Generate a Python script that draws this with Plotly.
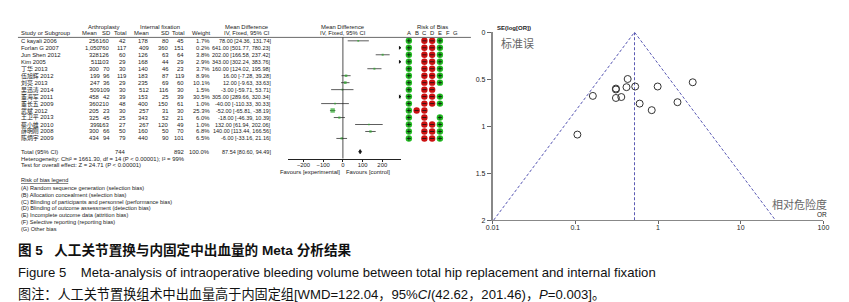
import math
import plotly.graph_objects as go

W, H = 849, 302
F = "Liberation Sans, Arial, Noto Sans CJK SC"
FC = "Liberation Sans, Noto Sans CJK SC"

# ---------------- data ----------------
studies = ["C kayali 2006", "Forlan G 2007", "Jun Shen 2012", "Kim 2005", "丁华 2013",
           "伍旭辉 2012", "刘亮 2013", "吴迅涛 2014", "董海军 2011", "董长五 2009",
           "武斌 2012", "王卫平 2013", "蔡小雄 2010", "薛明刚 2008", "陈炳宇 2009"]
arth_mean = ["256", "1,050", "328", "511", "300", "199", "247", "509", "458", "360", "205", "325", "399", "300", "434"]
arth_sd = ["160", "760", "126", "103", "70", "96", "36", "109", "42", "210", "23", "45", "163", "66", "94"]
arth_n = ["42", "117", "60", "29", "30", "119", "29", "30", "39", "48", "30", "25", "27", "50", "79"]
fix_mean = ["178", "409", "126", "168", "140", "183", "235", "512", "153", "400", "257", "343", "267", "160", "440"]
fix_sd = ["80", "360", "63", "44", "46", "87", "69", "116", "25", "150", "31", "52", "120", "50", "90"]
fix_n = ["45", "151", "64", "29", "23", "119", "60", "30", "39", "61", "30", "21", "49", "70", "101"]
weight = [1.7, 0.2, 3.8, 2.9, 3.7, 8.9, 10.1, 1.5, 30.5, 1.0, 25.3, 6.0, 1.0, 6.8, 6.5]
md = [78.00, 641.00, 202.00, 343.00, 160.00, 16.00, 12.00, -3.00, 305.00, -40.00, -52.00, -18.00, 132.00, 140.00, -6.00]
ci_lo = [24.36, 501.77, 166.58, 302.24, 124.02, -7.28, -9.63, -59.71, 289.66, -110.33, -65.81, -46.39, 61.94, 113.44, -33.16]
ci_hi = [131.74, 780.23, 237.42, 383.76, 195.98, 39.28, 33.63, 53.71, 320.34, 30.33, -38.19, 10.39, 202.06, 166.56, 21.16]
total_md, total_lo, total_hi = 87.54, 80.60, 94.49
total_arth_n, total_fix_n = "744", "892"
forest_ticks = [-200, -100, 0, 100, 200]

rob_cols = ["A", "B", "C", "D", "E", "F", "G"]
rob = {
    "A": ["+"] * 15,
    "B": [None] * 10 + ["-"] + [None] * 4,
    "C": ["-"] * 15,
    "D": ["-"] * 10 + [None, None] + ["-"] * 3,
    "E": ["+"] * 7 + [None] + ["+", "+"] + [None] + ["+"] * 4,
    "F": [None] * 15,
    "G": [None] * 15,
}
rob_legend = ["(A) Random sequence generation (selection bias)",
              "(B) Allocation concealment (selection bias)",
              "(C) Blinding of participants and personnel (performance bias)",
              "(D) Blinding of outcome assessment (detection bias)",
              "(E) Incomplete outcome data (attrition bias)",
              "(F) Selective reporting (reporting bias)",
              "(G) Other bias"]

funnel_or = [0.163, 0.43, 0.31, 0.31, 0.416, 0.53, 0.99, 0.31, 0.36, 0.60, 0.84, 0.106, 1.72, 2.63]
funnel_se = [0.678, 0.498, 0.60, 0.61, 0.585, 0.578, 0.578, 0.70, 0.69, 0.76, 0.83, 1.09, 0.745, 0.533]
pooled_or = 0.52
funnel_ticks = [0.01, 0.1, 1, 10, 100]
funnel_ticktext = ["0.01", "0.1", "1", "10", "100"]
se_ticks = [0, 0.5, 1, 1.5, 2]
se_ticktext = ["0", "0.5", "1", "1.5", "2"]

# ---------------- layout geometry (pixels) ----------------
ROW0, ROWH = 29.5, 7.14
def row_px(i):
    return ROW0 + ROWH * i
FOREST_TOP, FOREST_BOT = 26, 150
XMIN, XMAX = -280, 295
FS = 5.9
FS_CI = 5.5

def ann(text, x, y, anchor="left", size=FS, color="#222", family=F):
    return dict(text=text, x=x / W, y=1 - y / H, xref="paper", yref="paper",
                xanchor=anchor, yanchor="middle", showarrow=False, borderpad=0,
                font=dict(size=size, color=color, family=family))

anns = []
anns += [ann("Arthroplasty", 90, 15, "center"), ann("Internal fixation", 147, 15, "center"),
         ann("Mean Difference", 236, 15, "center"), ann("Mean Difference", 333, 15, "center"),
         ann("Risk of Bias", 424, 15, "center")]
HY = 22
anns += [ann("Study or Subgroup", 5, HY), ann("Mean", 84, HY, "right"), ann("SD", 98, HY, "right"),
         ann("Total", 114, HY, "right"), ann("Mean", 137, HY, "right"), ann("SD", 157, HY, "right"),
         ann("Total", 173, HY, "right"), ann("Weight", 200, HY, "right"),
         ann("IV, Fixed, 95% CI", 236, HY, "center"), ann("IV, Fixed, 95% CI", 333, HY, "center")]
ROB_X0, ROB_DX = 400, 7.88
for k, c in enumerate(rob_cols):
    anns.append(ann(c, ROB_X0 + ROB_DX * k, HY, "center"))

for i in range(len(studies)):
    y = row_px(i)
    anns += [ann(studies[i], 5, y), ann(arth_mean[i], 87, y, "right"), ann(arth_sd[i], 98, y, "right"),
             ann(arth_n[i], 114, y, "right"), ann(fix_mean[i], 137, y, "right"),
             ann(fix_sd[i], 157, y, "right"), ann(fix_n[i], 173, y, "right"),
             ann(f"{weight[i]:.1f}%", 199, y, "right"),
             ann(f"{md[i]:.2f} [{ci_lo[i]:.2f}, {ci_hi[i]:.2f}]", 261, y, "right", size=FS_CI)]

TY = 143
anns += [ann("Total (95% CI)", 5, TY), ann(total_arth_n, 114, TY, "right"), ann(total_fix_n, 173, TY, "right"),
         ann("100.0%", 199, TY, "right"),
         ann(f"{total_md:.2f} [{total_lo:.2f}, {total_hi:.2f}]", 261, TY, "right", size=FS_CI),
         ann("Heterogeneity: Chi² = 1661.30, df = 14 (P &lt; 0.00001); I² = 99%", 5, 150),
         ann("Test for overall effect: Z = 24.71 (P &lt; 0.00001)", 5, 157),
         ann("Favours [experimental]", 331, 164, "right"), ann("Favours [control]", 335, 164, "left")]
anns.append(ann("<u>Risk of bias legend</u>", 5, 172, size=5.6))
for k, t in enumerate(rob_legend):
    anns.append(ann(t, 5, 180 + 7 * k, size=5.6))

# funnel texts
anns += [ann("<b>SE(log[OR])</b>", 488, 16, size=6),
         ann("标准误", 510, 32, "center", size=11, color="#666", family="Noto Sans CJK SC"),
         ann("相对危险度", 797, 197, "center", size=11, color="#666", family="Noto Sans CJK SC"),
         ann("OR", 820, 207, "center", size=6.5)]

# captions
NB = "\u00a0"
anns += [ann("<b>图" + NB + "5" + NB * 3 + "人工关节置换与内固定中出血量的" + NB + "Meta" + NB + "分析结果</b>", 2, 244, size=13.6, color="#111", family=FC),
         ann("Figure" + NB + "5" + NB * 4 + "Meta-analysis of intraoperative bleeding volume between total hip replacement and internal fixation", 2, 267, size=13.15, color="#111", family=FC),
         ann("图注：人工关节置换组术中出血量高于内固定组[WMD=122.04，95%<i>CI</i>(42.62，201.46)，<i>P</i>=0.003]。", 2, 289, size=13.15, color="#111", family=FC)]

fig = go.Figure()

# ---- forest plot ----
rows = list(range(len(studies)))
ci_x, ci_y = [], []
for i in rows:
    ci_x += [ci_lo[i], ci_hi[i], None]
    ci_y += [i, i, None]
fig.add_trace(go.Scatter(x=ci_x, y=ci_y, mode="lines", line=dict(color="#333", width=0.8),
                         xaxis="x", yaxis="y", hoverinfo="skip", showlegend=False))
fig.add_trace(go.Scatter(x=md, y=rows, mode="markers",
                         marker=dict(symbol="square", color="#2fa82f", size=[1.6 + 0.11 * w for w in weight],
                                     line=dict(width=0)),
                         xaxis="x", yaxis="y", hoverinfo="skip", showlegend=False))
arrow_rows = [i for i in rows if ci_hi[i] > XMAX]
fig.add_trace(go.Scatter(x=[XMAX - 6] * len(arrow_rows), y=arrow_rows, mode="markers",
                         marker=dict(symbol="triangle-right", size=3.5, color="#111"),
                         xaxis="x", yaxis="y", hoverinfo="skip", showlegend=False))
TOT_ROW = (TY - ROW0) / ROWH
fig.add_trace(go.Scatter(x=[total_lo, total_md, total_hi, total_md, total_lo],
                         y=[TOT_ROW, TOT_ROW - 0.3, TOT_ROW, TOT_ROW + 0.3, TOT_ROW],
                         mode="lines", fill="toself", fillcolor="#111", line=dict(color="#111", width=0.8),
                         xaxis="x", yaxis="y", hoverinfo="skip", showlegend=False))

# ---- risk of bias dots ----
for col_i, c in enumerate(rob_cols):
    for sign, colr, sym in (("+", "#22bb22", "cross-thin"), ("-", "#cc1111", "line-ew")):
        ys = [i for i in rows if rob[c][i] == sign]
        if not ys:
            continue
        fig.add_trace(go.Scatter(x=[col_i] * len(ys), y=ys, mode="markers",
                                 marker=dict(symbol="circle", size=6.4, color=colr, line=dict(width=0)),
                                 xaxis="x3", yaxis="y", hoverinfo="skip", showlegend=False))
        fig.add_trace(go.Scatter(x=[col_i] * len(ys), y=ys, mode="markers",
                                 marker=dict(symbol=sym, size=3, color="#111", line=dict(width=0.8, color="#111")),
                                 xaxis="x3", yaxis="y", hoverinfo="skip", showlegend=False))

# ---- funnel plot ----
z = 1.96
fig.add_trace(go.Scatter(x=[pooled_or * math.exp(-z * 2), pooled_or, pooled_or * math.exp(z * 2)],
                         y=[2, 0, 2], mode="lines", line=dict(color="#5a5ab4", width=1, dash="3px,2px"),
                         xaxis="x2", yaxis="y2", hoverinfo="skip", showlegend=False))
fig.add_trace(go.Scatter(x=[pooled_or, pooled_or], y=[0, 2], mode="lines",
                         line=dict(color="#5a5ab4", width=1, dash="3px,2px"),
                         xaxis="x2", yaxis="y2", hoverinfo="skip", showlegend=False))
fig.add_trace(go.Scatter(x=funnel_or, y=funnel_se, mode="markers",
                         marker=dict(symbol="circle-open", size=7, color="#333", line=dict(width=1)),
                         xaxis="x2", yaxis="y2", hoverinfo="skip", showlegend=False))

def pxd(a, b):
    return [a / W, b / W]
def pyd(top, bot):
    return [1 - bot / H, 1 - top / H]

shapes = [
    dict(type="line", xref="paper", yref="paper", x0=3 / W, x1=463 / W, y0=1 - 26 / H, y1=1 - 26 / H,
         line=dict(color="#444", width=0.8)),
    dict(type="line", xref="x", yref="y domain", x0=0, x1=0, y0=0, y1=1, line=dict(color="#222", width=0.8)),
]

fig.update_layout(
    width=W, height=H, margin=dict(l=0, r=0, t=0, b=0),
    paper_bgcolor="white", plot_bgcolor="rgba(0,0,0,0)", showlegend=False,
    annotations=anns, shapes=shapes,
    xaxis=dict(domain=pxd(277, 392), range=[XMIN, XMAX], anchor="y", showgrid=False, zeroline=False,
               showline=True, linecolor="#222", linewidth=0.8, ticks="outside", ticklen=2.5, tickwidth=0.8,
               tickcolor="#222", tickvals=forest_ticks, ticklabelstandoff=-2,
               tickfont=dict(size=FS, family=F, color="#222")),
    yaxis=dict(domain=pyd(FOREST_TOP, FOREST_BOT), range=[(FOREST_BOT - ROW0) / ROWH, (FOREST_TOP - ROW0) / ROWH],
               anchor="x", visible=False, showgrid=False, zeroline=False),
    xaxis3=dict(domain=pxd(ROB_X0 - ROB_DX / 2, ROB_X0 + ROB_DX * 6.5), range=[-0.5, 6.5], anchor="y",
                visible=False, showgrid=False, zeroline=False),
    xaxis2=dict(domain=pxd(485, 821), type="log", range=[-2, 2], anchor="y2", showgrid=False, zeroline=False,
                showline=True, linecolor="#888", linewidth=1, ticks="outside", ticklen=3, tickcolor="#666",
                tickvals=funnel_ticks, ticktext=funnel_ticktext, ticklabelstandoff=-2,
                tickfont=dict(size=7, family=F, color="#222")),
    yaxis2=dict(domain=pyd(20.7, 213), range=[2, 0], anchor="x2", showgrid=False, zeroline=False,
                showline=True, linecolor="#888", linewidth=1.5, ticks="outside", ticklen=4, tickcolor="#666",
                tickvals=se_ticks, ticktext=se_ticktext, tickfont=dict(size=7, family=F, color="#222")),
)

fig.write_html("out.html")
